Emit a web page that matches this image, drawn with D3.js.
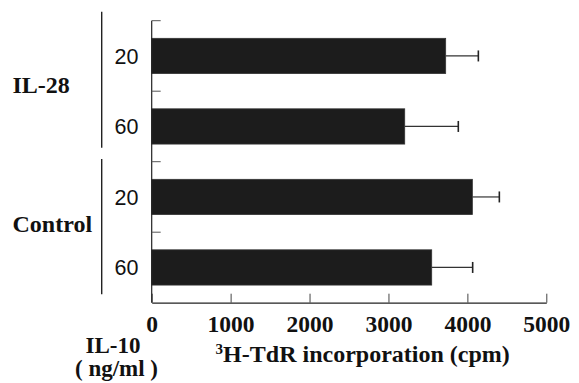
<!DOCTYPE html>
<html>
<head>
<meta charset="utf-8">
<script src="https://cdn.jsdelivr.net/npm/d3@7"></script>
<style>
  body { margin: 0; background: #fff; }
  svg { display: block; }
</style>
</head>
<body>
<div id="chart"></div>
<script>
// data
var groups = ["IL-28", "Control"];
var doses = ["20", "60"];
var rowKeys = ["IL-28|20", "IL-28|60", "Control|20", "Control|60"];
var means = [3725, 3206, 4063, 3548];
var errTops = [4139, 3885, 4405, 4067];
var xTicks = [0, 1000, 2000, 3000, 4000, 5000];

var svgWidth = 579;
var svgHeight = 383;

var svg = d3.select("#chart")
    .append("svg")
    .attr("width", svgWidth)
    .attr("height", svgHeight);

var rows = rowKeys.map(function (k, i) {
    return { key: k, group: k.split("|")[0], dose: k.split("|")[1], mean: means[i], err: errTops[i] };
});

var xScale = d3.scaleLinear()
    .domain([0, 5000])
    .range([151.7, 546.3]);

var yScale = d3.scaleBand()
    .domain(rowKeys)
    .range([20.7, 302.7])
    .paddingInner(0.5)
    .paddingOuter(0.25);

var step = yScale.step();
var axisBottomY = 302.7;
var serif = "'Liberation Serif', 'Times New Roman', serif";

// bars
svg.selectAll("rect.bar")
    .data(rows)
    .enter()
    .append("rect")
    .attr("class", "bar")
    .attr("x", xScale(0))
    .attr("y", d => yScale(d.key))
    .attr("width", d => xScale(d.mean) - xScale(0))
    .attr("height", yScale.bandwidth())
    .attr("fill", "#1c1c1c")
    .attr("stroke", "#333")
    .attr("stroke-width", 0.8);

// error bars
svg.selectAll("line.err")
    .data(rows)
    .enter()
    .append("line")
    .attr("class", "err")
    .attr("x1", d => xScale(d.mean))
    .attr("x2", d => xScale(d.err))
    .attr("y1", d => yScale(d.key) + yScale.bandwidth() / 2)
    .attr("y2", d => yScale(d.key) + yScale.bandwidth() / 2)
    .attr("stroke", "#333")
    .attr("stroke-width", 1.2);

svg.selectAll("line.cap")
    .data(rows)
    .enter()
    .append("line")
    .attr("class", "cap")
    .attr("x1", d => xScale(d.err))
    .attr("x2", d => xScale(d.err))
    .attr("y1", d => yScale(d.key) + yScale.bandwidth() / 2 - 5.5)
    .attr("y2", d => yScale(d.key) + yScale.bandwidth() / 2 + 5.5)
    .attr("stroke", "#222")
    .attr("stroke-width", 1.6);

// x axis
var bottomAxis = d3.axisBottom(xScale)
    .tickValues(xTicks)
    .tickFormat(d3.format("d"))
    .tickSizeInner(-9)
    .tickSizeOuter(0);

var xAxis = svg.append("g")
    .attr("transform", `translate(0, ${axisBottomY})`)
    .call(bottomAxis);

xAxis.select(".domain").attr("stroke", "#222").attr("stroke-width", 1.2);
xAxis.selectAll(".tick line").attr("stroke", "#444").attr("stroke-width", 1);
xAxis.selectAll(".tick text")
    .attr("y", 29)
    .attr("dy", 0)
    .attr("fill", "#111")
    .style("font-family", serif)
    .style("font-weight", "bold")
    .style("font-size", "23.5px");

// y axis line and inward ticks at band edges
svg.append("line")
    .attr("x1", xScale(0))
    .attr("x2", xScale(0))
    .attr("y1", yScale.range()[0])
    .attr("y2", axisBottomY)
    .attr("stroke", "#222")
    .attr("stroke-width", 1.2);

svg.selectAll("line.ytick")
    .data(rows)
    .enter()
    .append("line")
    .attr("class", "ytick")
    .attr("x1", xScale(0))
    .attr("x2", xScale(0) + 9)
    .attr("y1", d => yScale(d.key) - step * 0.25)
    .attr("y2", d => yScale(d.key) - step * 0.25)
    .attr("stroke", "#555")
    .attr("stroke-width", 1);

// dose labels
svg.selectAll("text.dose")
    .data(rows)
    .enter()
    .append("text")
    .attr("class", "dose")
    .attr("x", 138.5)
    .attr("y", d => yScale(d.key) + yScale.bandwidth() / 2)
    .attr("dy", "0.36em")
    .attr("text-anchor", "end")
    .style("font-family", "'Liberation Sans', Arial, sans-serif")
    .style("font-size", "21.5px")
    .style("font-weight", "500")
    .attr("fill", "#111")
    .text(d => d.dose);

// group brackets and labels
var bracketTops = [11.7, 159];
var bracketBottoms = [147.7, 294.3];
var groupBaselines = [93.3, 231.7];

groups.forEach(function (g, i) {
    svg.append("line")
        .attr("x1", 101.7)
        .attr("x2", 101.7)
        .attr("y1", bracketTops[i])
        .attr("y2", bracketBottoms[i])
        .attr("stroke", "#222")
        .attr("stroke-width", 1.4);

    svg.append("text")
        .attr("x", 12.5)
        .attr("y", groupBaselines[i])
        .style("font-family", serif)
        .style("font-weight", "bold")
        .style("font-size", "24px")
        .attr("fill", "#111")
        .text(g);
});

// axis titles
svg.append("text")
    .attr("x", 113)
    .attr("y", 353)
    .attr("text-anchor", "middle")
    .style("font-family", serif)
    .style("font-weight", "bold")
    .style("font-size", "23px")
    .attr("fill", "#111")
    .text("IL-10");

svg.append("text")
    .attr("x", 116.5)
    .attr("y", 376)
    .attr("text-anchor", "middle")
    .style("font-family", serif)
    .style("font-weight", "bold")
    .style("font-size", "23px")
    .attr("fill", "#111")
    .text("( ng/ml )");

var xTitle = svg.append("text")
    .attr("x", 362.7)
    .attr("y", 361.7)
    .attr("text-anchor", "middle")
    .style("font-family", serif)
    .style("font-weight", "bold")
    .style("font-size", "24px")
    .attr("fill", "#111");

xTitle.append("tspan")
    .attr("dy", -8)
    .style("font-size", "15px")
    .text("3");

xTitle.append("tspan")
    .attr("dy", 8)
    .text("H-TdR incorporation (cpm)");
</script>
</body>
</html>
